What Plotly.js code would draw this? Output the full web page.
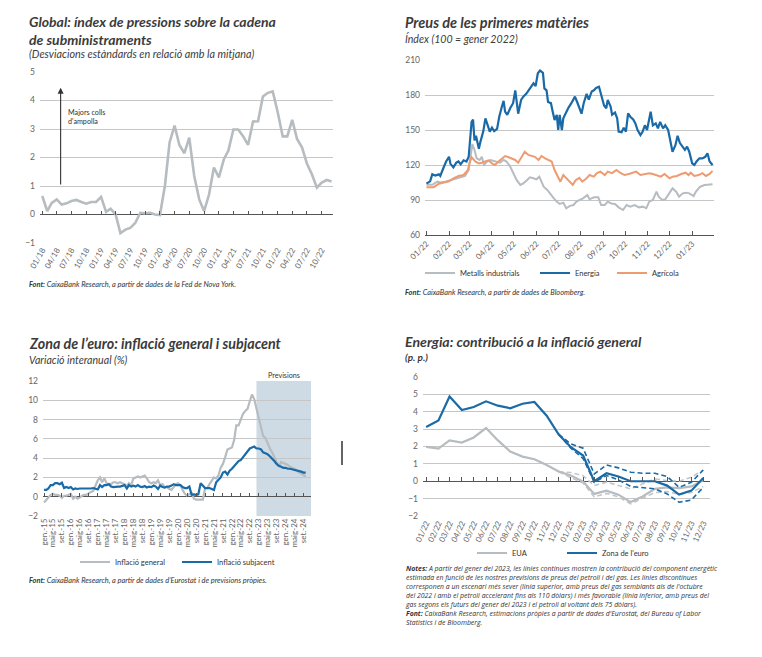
<!DOCTYPE html>
<html><head><meta charset="utf-8">
<script src="https://cdn.plot.ly/plotly-3.0.1.min.js"></script>
<style>html,body{margin:0;padding:0;background:#fff}#chart{width:762px;height:657px}</style>
</head><body><div id="chart"></div>
<script>
// ---------- Panel 1: GSCPI ----------
const gscpiStart = [2018, 1];
const gscpiValues = [0.65,0.12,0.41,0.53,0.35,0.39,0.47,0.51,0.44,0.38,0.44,0.44,
 0.62,0.09,0.20,0.00,-0.65,-0.53,-0.47,-0.30,0.06,0.04,0.06,0.00,
 -0.02,1.00,2.53,3.12,2.44,2.15,2.70,1.35,0.53,0.12,0.70,1.65,
 1.30,1.94,2.24,2.98,2.98,2.74,2.44,3.26,3.27,4.14,4.27,4.32,
 3.59,2.74,2.74,3.32,2.65,2.35,1.79,1.41,0.94,1.12,1.21,1.16];

// ---------- Panel 2: commodity prices (day offset from 1 Jan 2022) ----------
const energyDay = [0,5,8,12,17,19,23,27,31,33,37,41,44,47,51,55,58,60,62,64,66,68,72,74,78,81,84,87,90,93,97,100,104,106,108,111,115,119,122,124,126,130,133,137,140,143,147,150,153,156,160,162,165,167,171,173,176,179,181,183,186,188,192,195,199,204,207,210,213,216,220,223,227,230,233,237,240,244,247,249,253,255,259,262,264,268,271,274,277,280,284,287,290,294,297,300,303,306,308,311,315,318,321,325,328,332,335,338,342,345,348,352,355,358,361,365,368,371,375,379,383,386,389,393];
const energyIdx = [104,106,112,111,112,110.6,117,123,127,121,118,122,123,120.6,124,123,127,144,157,159,141,145,134,139.6,148.6,160,154,148.6,152,149,151,161.4,171,175,165.7,163,168.6,173,184,173,164,175.7,178.6,181,184,187,190,187.7,198.6,201,199,185.7,184,174,173,167,158.6,163,150,163,150,160,165.7,169,173,178.6,174,168.6,164,173,181,176,183,184,186,187,181,171,168.6,175.7,170,163,165,160,148.6,148,152,148.6,164.3,161.4,159,155.7,150,145.7,148.6,154,150,158.6,165.7,154,155.7,151.4,157,151.4,154,150,140,131.4,137,145,139,135.7,133,135.7,131.4,121.4,120,123,125.7,125.7,127,130,123,120];
const agriDay = [0,10,17,24,31,37,44,51,57,59,62,67,72,76,81,85,90,94,99,104,108,113,117,122,126,131,135,140,145,149,154,158,163,167,172,176,181,184,188,192,197,201,205,210,214,220,224,230,234,239,245,249,255,261,266,272,278,284,288,294,300,306,311,316,322,327,334,338,344,350,356,360,363,368,374,379,384,389,393];
const agriIdx = [101,101,104,105,106,108.6,110.6,111.4,115.7,121.4,126.6,123,121.4,122,123,124,121.4,120,123,125.7,127.7,126.6,125.7,124.3,122,127.7,131.4,128.6,127.7,127,124.3,127.7,125.7,124.3,123,115.7,108.6,105.7,111.4,108.6,105.7,103,107,109,105.7,108.6,111.4,110,113,114.3,111.4,114.3,113,115.7,113.4,111.4,112.3,113.4,114.3,111.4,112.3,113,112.3,111.4,110,112.3,108.6,110,110.6,112.3,113.4,111.4,113.4,110.6,111.4,113,110.6,112.3,115];
const metalDay = [0,8,15,19,26,33,40,47,53,58,61,63,66,69,73,76,79,83,88,92,97,101,106,110,115,119,124,129,133,138,142,147,151,155,158,161,166,171,175,179,183,188,192,197,202,206,211,215,221,224,230,236,240,245,249,254,259,264,270,275,280,286,292,297,302,306,311,316,319,324,328,334,338,343,347,352,357,361,367,370,376,382,388,393];
const metalIdx = [103,103,105.7,105,105.7,107,108.6,110,110.6,115.7,131.4,138,132.9,125.7,124.3,127,120,123,124.3,123.7,123,122,124.3,123,118.6,112.9,107,102.9,104.3,107,109.4,108.6,107.7,110,105.7,101.4,98.6,94.3,91.4,88.6,86.6,87.7,82.9,85,85.7,88.6,90,91.4,94.3,90.6,92.3,92.3,85.7,85.7,88.6,87,86.6,83.7,81.4,85.7,84.3,85.7,83.7,84.3,82.9,88.6,90,97.1,92.9,90,90.6,95.7,100,97.1,92.9,95.7,96.3,95.7,93.4,97.1,101.4,102.9,102.9,103.4];

// ---------- Panel 3: euro area inflation (monthly from Jan 2015) ----------
const inflStart = [2015, 1];
const inflGeneral = [-0.6,-0.3,-0.1,0.2,0.3,0.2,0.2,0.1,-0.1,0.1,0.1,0.2,
 0.3,-0.2,0.0,-0.2,-0.1,0.1,0.2,0.2,0.4,0.5,0.6,1.1,
 1.7,2.0,1.5,1.9,1.4,1.3,1.3,1.5,1.5,1.4,1.5,1.4,
 1.3,1.1,1.4,1.2,1.9,2.0,2.1,2.0,2.1,2.2,1.9,1.5,
 1.4,1.5,1.4,1.7,1.2,1.3,1.0,1.0,0.8,0.7,1.0,1.3,
 1.4,1.2,0.7,0.3,0.1,0.3,0.4,-0.2,-0.3,-0.3,-0.3,-0.3,
 0.9,0.9,1.3,1.6,2.0,1.9,2.2,3.0,3.4,4.1,4.9,5.0,
 5.1,5.9,7.4,7.4,8.1,8.6,8.9,9.1,9.9,10.6,10.1,9.2,
 8.0,7.1,6.3,6.1,5.5,5.0,4.6,4.1,3.5,3.1,3.6,3.5,
 3.4,3.3,3.1,3.0,2.9,2.7,2.5,2.4,2.2,2.1];
const inflCore = [0.7,0.7,0.85,1.2,1.2,1.4,1.4,1.3,1.45,0.9,1.0,0.9,
 1.0,0.75,0.85,0.8,0.85,0.85,0.85,0.85,0.8,0.85,0.9,0.85,
 0.75,1.2,1.0,1.2,1.2,1.3,1.05,1.0,1.05,1.05,1.05,1.1,
 1.2,0.85,1.2,1.05,1.15,1.05,1.2,1.05,1.0,1.1,0.95,1.05,
 1.0,1.15,1.05,0.8,1.15,1.0,0.95,1.05,1.05,1.15,1.3,1.2,
 1.2,1.2,1.0,0.9,0.9,1.05,0.2,0.25,0.2,0.25,1.4,1.1,
 0.9,0.9,0.9,0.8,0.7,1.5,1.8,2.0,2.5,2.6,2.3,2.7,
 2.9,3.2,3.5,3.7,3.8,4.1,4.4,4.8,5.0,5.1,5.2,5.0,
 5.0,4.9,4.6,4.5,4.4,4.2,4.0,3.7,3.4,3.2,3.1,3.0,
 3.0,2.9,2.9,2.85,2.8,2.75,2.7,2.6,2.5,2.5];
const forecastFrom = '2022-12-01';
const inflTickLabels = ['gen.-15','maig-15','set.-15','gen.-16','maig-16','set.-16','gen.-17','maig-17','set.-17','gen.-18','maig-18','set.-18','gen.-19','maig-19','set.-19','gen.-20','maig-20','set.-20','gen.-21','maig-21','set.-21','gen.-22','maig-22','set.-22','gen.-23','maig-23','set.-23','gen.-24','maig-24','set.-24'];

// ---------- Panel 4: energy contribution (monthly from Jan 2022) ----------
const contribStart = [2022, 1];
const scenarioFromIndex = 11;
const ezSolid = [3.12,3.5,4.88,4.1,4.27,4.6,4.35,4.2,4.46,4.56,3.77,2.7,1.96,1.48,0.0,0.46,0.27,0.0,0.0,0.0,-0.25,-0.77,-0.54,0.19];
const ezUpper = [2.7,2.15,1.9,0.42,0.94,0.77,0.52,0.46,0.46,0.27,-0.35,-0.06,0.65];
const ezLower = [2.7,1.9,1.3,-0.06,0.33,0.08,-0.3,-0.38,-0.44,-0.73,-1.21,-1.08,-0.35];
const usSolid = [1.98,1.88,2.35,2.23,2.52,3.06,2.35,1.71,1.42,1.27,0.94,0.56,0.33,-0.02,-0.73,-0.54,-0.77,-1.2,-0.88,-0.44,-0.35,-0.4,-0.3,0.05];
const usUpper = [0.56,0.5,0.32,-0.25,-0.05,-0.25,-0.44,-0.15,0.13,0.04,0.0,0.23,0.65];
const usLower = [0.56,0.2,-0.1,-0.9,-0.7,-0.9,-1.3,-1.0,-0.65,-0.6,-0.75,-0.65,-0.3];

// ---------- helpers ----------
const W = 762, H = 657;
const X = p => p / W;
const Y = p => 1 - p / H;
function monthDate(start, k) {
  const t = (start[0] * 12 + (start[1] - 1)) + k;
  const y = Math.floor(t / 12), m = t % 12 + 1;
  return y + '-' + String(m).padStart(2, '0') + '-01';
}
const monthly = (start, n, off) => Array.from({length: n}, (_, i) => monthDate(start, i + (off || 0)));
const dayDate = d => new Date(Date.UTC(2022, 0, 1) + d * 864e5).toISOString().slice(0, 10);

const FONT = 'Lato, "Open Sans", sans-serif';
const NOTEFONT = '"Open Sans", Lato, sans-serif';
const GREY = '#b6bcbf', GREY_D = '#c3c7c9', BLUE = '#1a6aa8', ORANGE = '#ee9b72';
const GRID = '#c6c6c6', AXIS = '#555555', TICKC = '#666666', TXT = '#3b3b3b';

const gDates = monthly(gscpiStart, gscpiValues.length);
const iDates = monthly(inflStart, inflGeneral.length);
const cDates = monthly(contribStart, ezSolid.length);
const sDates = monthly(contribStart, ezUpper.length, scenarioFromIndex);
const inflTickVals = inflTickLabels.map((_, k) => monthDate(inflStart, 4 * k));

const traces = [
  {x: gDates, y: gscpiValues, xaxis: 'x', yaxis: 'y', mode: 'lines', line: {color: GREY, width: 2.6}, showlegend: false, hoverinfo: 'skip'},
  {x: gDates, y: gscpiValues, xaxis: 'x5', yaxis: 'y', mode: 'lines', opacity: 0, showlegend: false, hoverinfo: 'skip'},

  {x: metalDay.map(dayDate), y: metalIdx, xaxis: 'x2', yaxis: 'y2', mode: 'lines', name: 'Metalls industrials', line: {color: GREY, width: 2}, legend: 'legend'},
  {x: agriDay.map(dayDate), y: agriIdx, xaxis: 'x2', yaxis: 'y2', mode: 'lines', name: 'Agrícola', line: {color: ORANGE, width: 2}, legend: 'legend3'},
  {x: energyDay.map(dayDate), y: energyIdx, xaxis: 'x2', yaxis: 'y2', mode: 'lines', name: 'Energia', line: {color: BLUE, width: 2.2}, legend: 'legend2'},

  {x: iDates, y: inflGeneral, xaxis: 'x3', yaxis: 'y3', mode: 'lines', name: 'Inflació general', line: {color: GREY, width: 2.2}, legend: 'legend4'},
  {x: iDates, y: inflCore, xaxis: 'x3', yaxis: 'y3', mode: 'lines', name: 'Inflació subjacent', line: {color: BLUE, width: 2.2}, legend: 'legend5'},
  {x: iDates, y: inflCore, xaxis: 'x6', yaxis: 'y3', mode: 'lines', opacity: 0, showlegend: false, hoverinfo: 'skip'},

  {x: sDates, y: usUpper, xaxis: 'x4', yaxis: 'y4', mode: 'lines', line: {color: GREY_D, width: 1.6, dash: '5px,3px'}, showlegend: false},
  {x: sDates, y: usLower, xaxis: 'x4', yaxis: 'y4', mode: 'lines', line: {color: GREY_D, width: 1.6, dash: '5px,3px'}, showlegend: false},
  {x: cDates, y: usSolid, xaxis: 'x4', yaxis: 'y4', mode: 'lines', name: 'EUA', line: {color: GREY, width: 2.2}, legend: 'legend6'},
  {x: sDates, y: ezUpper, xaxis: 'x4', yaxis: 'y4', mode: 'lines', line: {color: BLUE, width: 1.6, dash: '5px,3px'}, showlegend: false},
  {x: sDates, y: ezLower, xaxis: 'x4', yaxis: 'y4', mode: 'lines', line: {color: BLUE, width: 1.6, dash: '5px,3px'}, showlegend: false},
  {x: cDates, y: ezSolid, xaxis: 'x4', yaxis: 'y4', mode: 'lines', name: "Zona de l'euro", line: {color: BLUE, width: 2.2}, legend: 'legend7'},
  {x: cDates, y: ezSolid, xaxis: 'x7', yaxis: 'y4', mode: 'lines', opacity: 0, showlegend: false, hoverinfo: 'skip'}
];

const tickFont = {family: FONT, size: 8, color: TICKC};
const yBase = {gridcolor: GRID, gridwidth: 1, showline: false, ticks: '', tickfont: {family: FONT, size: 8.5, color: TICKC}, fixedrange: true, ticklabelstandoff: 4};
const xBase = {type: 'date', showgrid: false, zeroline: false, showline: false, tickfont: tickFont, fixedrange: true};
const tickOverlay = {type: 'date', anchor: 'free', side: 'bottom', showgrid: false, zeroline: false, showline: false,
  showticklabels: false, ticks: 'inside', ticklen: 4, tickwidth: 1, tickcolor: AXIS};

const r1 = ['2017-12-18', '2022-12-10'];
const r2 = ['2021-12-30', '2023-01-31'];
const r3 = ['2014-12-18', '2024-12-12'];
const r4 = ['2021-12-24', '2023-12-18'];

function legendAt(px, py) {
  return {x: X(px), y: Y(py), xanchor: 'left', yanchor: 'middle', orientation: 'h', bgcolor: 'rgba(0,0,0,0)',
    font: {family: FONT, size: 7.5, color: '#333'}, itemwidth: 30, tracegroupgap: 0};
}

function txt(text, px, py, font, opts) {
  return Object.assign({text: text, xref: 'paper', yref: 'paper', x: X(px), y: Y(py), xanchor: 'left', yanchor: 'middle',
    showarrow: false, align: 'left', font: font}, opts || {});
}
const titleFont = s => ({family: FONT, size: s, color: TXT, weight: 700, style: 'italic'});
const subFont = s => ({family: FONT, size: s, color: TXT, style: 'italic'});
const srcFont = {family: FONT, size: 7.4, color: '#333', style: 'italic'};

const notes = [
  '<b>Notes:</b> A partir del gener del 2023, les línies contínues mostren la contribució del component energètic',
  'estimada en funció de les nostres previsions de preus del petroli i del gas. Les línies discontínues',
  "corresponen a un escenari més sever (línia superior, amb preus del gas semblants als de l'octubre",
  'del 2022 i amb el petroli accelerant fins als 110 dòlars) i més favorable (línia inferior, amb preus del',
  'gas segons els futurs del gener del 2023 i el petroli al voltant dels 75 dòlars).',
  "<b>Font:</b> CaixaBank Research, estimacions pròpies a partir de dades d'Eurostat, del Bureau of Labor",
  'Statistics i de Bloomberg.'
];

const annotations = [
  txt('Global: índex de pressions sobre la cadena<br>de subministraments', 27, 31, titleFont(14)),
  txt('(Desviacions estàndards en relació amb la mitjana)', 27, 53.5, subFont(10.8)),
  txt('Majors colls<br>d\'ampolla', 66, 117, {family: FONT, size: 7.2, color: '#333'}),
  {xref: 'x', yref: 'y', axref: 'x', ayref: 'y', x: '2018-04-25', y: 4.45, ax: '2018-04-25', ay: 1.0, text: '',
    showarrow: true, arrowhead: 2, arrowsize: 1.1, arrowwidth: 1.1, arrowcolor: '#333'},
  txt('<b>Font:</b> CaixaBank Research, a partir de dades de la Fed de Nova York.', 27, 284, srcFont),

  txt('Preus de les primeres matèries', 403, 22, titleFont(14.5)),
  txt('Índex (100 = gener 2022)', 403, 38, subFont(10.6)),
  txt('<b>Font:</b> CaixaBank Research, a partir de dades de Bloomberg.', 403, 292, srcFont),

  txt("Zona de l’euro: inflació general i subjacent", 27, 343, titleFont(14.3)),
  txt('Variació interanual (%)', 27, 359.5, subFont(10.6)),
  txt('Previsions', 284, 375, {family: FONT, size: 7.2, color: '#333'}, {xanchor: 'center'}),
  txt("<b>Font:</b> CaixaBank Research, a partir de dades d’Eurostat i de previsions pròpies.", 27, 580, srcFont),

  txt('Energia: contribució a la inflació general', 403, 341, titleFont(14.1)),
  txt('(p. p.)', 403, 357, titleFont(10)),
  txt(notes.join('<br>'), 403, 562, {family: NOTEFONT, size: 6.9, color: '#333', style: 'italic'}, {yanchor: 'top'})
];

const layout = {
  width: W, height: H, margin: {l: 0, r: 0, t: 0, b: 0}, paper_bgcolor: '#fff', plot_bgcolor: 'rgba(0,0,0,0)',
  font: {family: FONT}, hovermode: false,
  xaxis: Object.assign({}, xBase, {domain: [X(40), X(333)], range: r1, anchor: 'y', tickformat: '%m/%y', dtick: 'M3', tick0: '2018-01-01', tickangle: -60, ticks: ''}),
  yaxis: Object.assign({}, yBase, {domain: [Y(243), Y(72)], range: [-1, 5], dtick: 1, anchor: 'x', zeroline: true, zerolinecolor: AXIS, zerolinewidth: 1}),
  xaxis5: Object.assign({}, tickOverlay, {overlaying: 'x', range: r1, position: Y(214.5), dtick: 'M3', tick0: '2018-01-01'}),

  xaxis2: Object.assign({}, xBase, {domain: [X(425), X(714)], range: r2, anchor: 'y2', tickformat: '%m/%y', dtick: 'M1', tick0: '2022-01-01', tickangle: -45,
    ticks: 'inside', ticklen: 4, tickcolor: AXIS, showline: true, linecolor: AXIS, linewidth: 1}),
  yaxis2: Object.assign({}, yBase, {domain: [Y(235), Y(60)], range: [60, 210], dtick: 30, anchor: 'x2', zeroline: false}),

  xaxis3: Object.assign({}, xBase, {domain: [X(43), X(311)], range: r3, anchor: 'y3', tickmode: 'array', tickvals: inflTickVals, ticktext: inflTickLabels, tickangle: -90, ticks: ''}),
  yaxis3: Object.assign({}, yBase, {domain: [Y(516), Y(381)], range: [-2, 12], dtick: 2, anchor: 'x3', zeroline: true, zerolinecolor: AXIS, zerolinewidth: 1}),
  xaxis6: Object.assign({}, tickOverlay, {overlaying: 'x3', range: r3, position: Y(496.7), tickmode: 'array', tickvals: inflTickVals}),

  xaxis4: Object.assign({}, xBase, {domain: [X(423), X(710)], range: r4, anchor: 'y4', tickformat: '%m/%y', dtick: 'M1', tick0: '2022-01-01', tickangle: -65, ticks: ''}),
  yaxis4: Object.assign({}, yBase, {domain: [Y(516), Y(377)], range: [-2, 6], dtick: 1, anchor: 'x4', zeroline: true, zerolinecolor: AXIS, zerolinewidth: 1}),
  xaxis7: Object.assign({}, tickOverlay, {overlaying: 'x4', range: r4, position: Y(481.2), dtick: 'M1', tick0: '2022-01-01'}),

  legend: legendAt(420, 273),
  legend2: legendAt(535, 273),
  legend3: legendAt(612, 273),
  legend4: legendAt(75, 562),
  legend5: legendAt(177, 562),
  legend6: legendAt(472, 553),
  legend7: legendAt(562, 553),

  shapes: [
    {type: 'rect', xref: 'x3', yref: 'y3', x0: forecastFrom, x1: r3[1], y0: -2, y1: 12, fillcolor: '#cfdbe4', line: {width: 0}, layer: 'below'},
    {type: 'line', xref: 'paper', yref: 'paper', x0: X(342), x1: X(342), y0: Y(465), y1: Y(441), line: {color: '#111', width: 1.3}}
  ],
  annotations: annotations
};

Plotly.newPlot('chart', traces, layout, {displayModeBar: false, staticPlot: true});
</script>
</body></html>
